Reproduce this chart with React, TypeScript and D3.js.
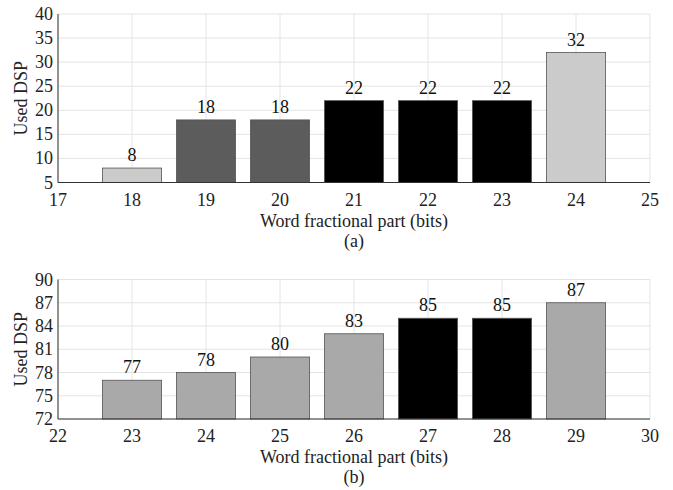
import * as d3 from "d3";
import { useEffect, useRef } from "react";

// Panel (a)
const bitsA: number[] = [18, 19, 20, 21, 22, 23, 24];
const dspA: number[] = [8, 18, 18, 22, 22, 22, 32];
const shadeA: string[] = ["light", "dark", "dark", "black", "black", "black", "light"];
const xTicksA: number[] = [17, 18, 19, 20, 21, 22, 23, 24, 25];
const yTicksA: number[] = [5, 10, 15, 20, 25, 30, 35, 40];

// Panel (b)
const bitsB: number[] = [23, 24, 25, 26, 27, 28, 29];
const dspB: number[] = [77, 78, 80, 83, 85, 85, 87];
const shadeB: string[] = ["mid", "mid", "mid", "mid", "black", "black", "mid"];
const xTicksB: number[] = [22, 23, 24, 25, 26, 27, 28, 29, 30];
const yTicksB: number[] = [72, 75, 78, 81, 84, 87, 90];

const fills: Record<string, string> = {
  light: "#cbcbcb",
  dark: "#5c5c5c",
  black: "#000000",
  mid: "#a9a9a9",
};

const width = 673;
const height = 490;
const marginLeft = 58;
const marginRight = 23;
const font = "'Liberation Serif', 'Times New Roman', serif";
const fontSize = 18;

interface Panel {
  bits: number[];
  dsp: number[];
  shade: string[];
  xTicks: number[];
  yTicks: number[];
  top: number;
  bottom: number;
  caption: string;
}

const panels: Panel[] = [
  { bits: bitsA, dsp: dspA, shade: shadeA, xTicks: xTicksA, yTicks: yTicksA, top: 14, bottom: 182.5, caption: "(a)" },
  { bits: bitsB, dsp: dspB, shade: shadeB, xTicks: xTicksB, yTicks: yTicksB, top: 279.5, bottom: 419, caption: "(b)" },
];

export default function App() {
  const svgRef = useRef<SVGSVGElement>(null);

  useEffect(() => {
    const svg = d3.select(svgRef.current);
    svg.selectAll("*").remove();

    panels.forEach((p) => {
      const x = d3
        .scaleLinear()
        .domain([p.xTicks[0], p.xTicks[p.xTicks.length - 1]])
        .range([marginLeft, width - marginRight]);
      const y = d3
        .scaleLinear()
        .domain([p.yTicks[0], p.yTicks[p.yTicks.length - 1]])
        .range([p.bottom, p.top]);
      const barW = (x(1) - x(0)) * 0.8;

      const g = svg.append("g");

      // grid
      g.append("g")
        .selectAll("line")
        .data(p.xTicks)
        .join("line")
        .attr("x1", (d) => x(d))
        .attr("x2", (d) => x(d))
        .attr("y1", p.top)
        .attr("y2", p.bottom)
        .attr("stroke", "#e4e4e4");
      g.append("g")
        .selectAll("line")
        .data(p.yTicks)
        .join("line")
        .attr("x1", marginLeft)
        .attr("x2", width - marginRight)
        .attr("y1", (d) => y(d))
        .attr("y2", (d) => y(d))
        .attr("stroke", "#e4e4e4");

      // bars
      g.append("g")
        .selectAll("rect")
        .data(p.bits)
        .join("rect")
        .attr("x", (d) => x(d) - barW / 2)
        .attr("y", (_, i) => y(p.dsp[i]))
        .attr("width", barW)
        .attr("height", (_, i) => p.bottom - y(p.dsp[i]))
        .attr("fill", (_, i) => fills[p.shade[i]])
        .attr("stroke", "#555")
        .attr("stroke-width", 0.8);

      // value labels
      g.append("g")
        .selectAll("text")
        .data(p.bits)
        .join("text")
        .attr("x", (d) => x(d))
        .attr("y", (_, i) => y(p.dsp[i]) - 7)
        .attr("text-anchor", "middle")
        .attr("font-family", font)
        .attr("font-size", fontSize)
        .attr("fill", "#111")
        .text((_, i) => p.dsp[i]);

      // axes lines
      g.append("line")
        .attr("x1", marginLeft)
        .attr("x2", width - marginRight)
        .attr("y1", p.bottom)
        .attr("y2", p.bottom)
        .attr("stroke", "#333");
      g.append("line")
        .attr("x1", marginLeft)
        .attr("x2", marginLeft)
        .attr("y1", p.top)
        .attr("y2", p.bottom)
        .attr("stroke", "#333");

      // tick labels
      g.append("g")
        .selectAll("text")
        .data(p.xTicks)
        .join("text")
        .attr("x", (d) => x(d))
        .attr("y", p.bottom + 23)
        .attr("text-anchor", "middle")
        .attr("font-family", font)
        .attr("font-size", fontSize)
        .attr("fill", "#222")
        .text((d) => d);
      g.append("g")
        .selectAll("text")
        .data(p.yTicks)
        .join("text")
        .attr("x", marginLeft - 5)
        .attr("y", (d) => y(d) + 6)
        .attr("text-anchor", "end")
        .attr("font-family", font)
        .attr("font-size", fontSize)
        .attr("fill", "#222")
        .text((d) => d);

      // labels
      const cx = (marginLeft + width - marginRight) / 2;
      g.append("text")
        .attr("x", cx)
        .attr("y", p.bottom + 44)
        .attr("text-anchor", "middle")
        .attr("font-family", font)
        .attr("font-size", fontSize)
        .attr("fill", "#222")
        .text("Word fractional part (bits)");
      g.append("text")
        .attr("x", cx)
        .attr("y", p.bottom + 64)
        .attr("text-anchor", "middle")
        .attr("font-family", font)
        .attr("font-size", fontSize)
        .attr("fill", "#222")
        .text(p.caption);
      g.append("text")
        .attr("transform", `translate(27,${(p.top + p.bottom) / 2}) rotate(-90)`)
        .attr("text-anchor", "middle")
        .attr("font-family", font)
        .attr("font-size", fontSize)
        .attr("fill", "#222")
        .text("Used DSP");
    });
  }, []);

  return (
    <svg
      ref={svgRef}
      width={width}
      height={height}
      style={{ position: "absolute", left: 0, top: 0, background: "#fff" }}
    />
  );
}
